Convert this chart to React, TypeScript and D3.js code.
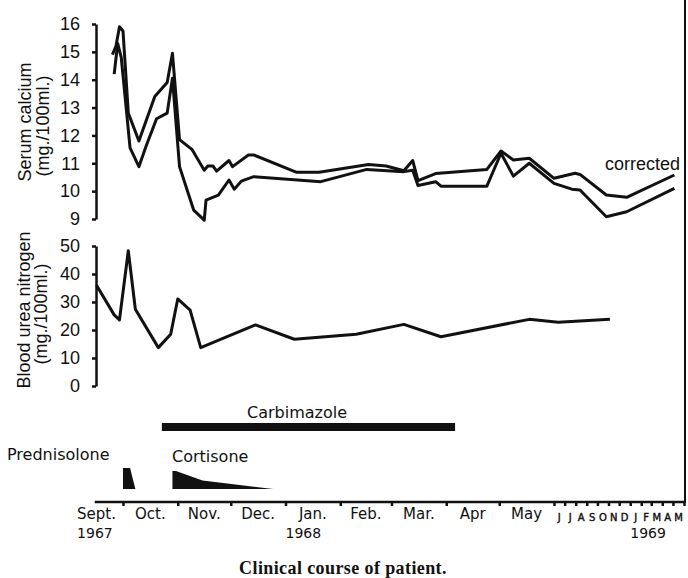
import { useEffect, useRef } from 'react'
import { area, axisBottom, axisLeft, line, scaleLinear, scaleTime, select, timeMonth, timeParse } from 'd3'

const parseDay = timeParse('%Y-%m-%d')

// serum calcium, corrected (upper trace)
const correctedCalcium: [string, number][] = [
  ['1967-09-25', 14.9], ['1967-09-27', 15.2], ['1967-09-29', 15.9], ['1967-10-01', 15.75],
  ['1967-10-04', 12.8], ['1967-10-07', 12.3], ['1967-10-10', 11.8], ['1967-10-19', 13.4],
  ['1967-10-26', 13.9], ['1967-10-29', 14.95], ['1967-11-02', 11.85], ['1967-11-09', 11.5],
  ['1967-11-16', 10.75], ['1967-11-18', 10.9], ['1967-11-21', 10.9], ['1967-11-23', 10.72],
  ['1967-11-30', 11.1], ['1967-12-02', 10.88], ['1967-12-11', 11.3], ['1967-12-14', 11.3],
  ['1968-01-07', 10.68], ['1968-01-20', 10.68], ['1968-02-17', 10.96], ['1968-02-27', 10.9],
  ['1968-03-08', 10.73], ['1968-03-13', 11.1], ['1968-03-16', 10.38], ['1968-03-26', 10.63],
  ['1968-04-24', 10.78], ['1968-05-02', 11.44], ['1968-05-09', 11.12], ['1968-05-18', 11.18],
  ['1968-06-01', 10.46], ['1968-07-30', 10.64], ['1968-08-13', 10.6], ['1968-10-26', 9.86],
  ['1968-12-22', 9.78], ['1969-05-05', 10.58],
]

// serum calcium, measured (lower trace)
const measuredCalcium: [string, number][] = [
  ['1967-09-26', 14.2], ['1967-09-28', 15.3], ['1967-09-30', 14.8], ['1967-10-05', 11.55],
  ['1967-10-10', 10.88], ['1967-10-14', 11.6], ['1967-10-20', 12.6], ['1967-10-26', 12.8],
  ['1967-10-29', 14.05], ['1967-11-02', 10.88], ['1967-11-10', 9.32], ['1967-11-16', 8.96],
  ['1967-11-17', 9.68], ['1967-11-24', 9.86], ['1967-11-30', 10.4], ['1967-12-03', 10.07],
  ['1967-12-07', 10.36], ['1967-12-14', 10.52], ['1968-01-21', 10.34], ['1968-02-16', 10.78],
  ['1968-03-08', 10.7], ['1968-03-13', 10.75], ['1968-03-16', 10.2], ['1968-03-26', 10.34],
  ['1968-03-29', 10.18], ['1968-04-24', 10.18], ['1968-05-02', 11.36], ['1968-05-09', 10.54],
  ['1968-05-18', 11.0], ['1968-06-01', 10.28], ['1968-07-21', 10.07], ['1968-08-13', 10.04],
  ['1968-10-26', 9.08], ['1968-12-22', 9.26], ['1969-05-05', 10.1],
]

const bloodUreaNitrogen: [string, number][] = [
  ['1967-09-16', 36], ['1967-09-26', 25.4], ['1967-09-29', 23.6], ['1967-10-04', 48.3],
  ['1967-10-08', 27.4], ['1967-10-21', 13.7], ['1967-10-28', 18.5], ['1967-11-01', 31.1],
  ['1967-11-08', 27.1], ['1967-11-14', 13.7], ['1967-12-15', 21.8], ['1968-01-06', 16.7],
  ['1968-02-10', 18.5], ['1968-03-08', 22], ['1968-03-29', 17.6], ['1968-05-18', 23.8],
  ['1968-06-13', 22.8], ['1968-11-05', 23.8],
]

const carbimazolePeriod = ['1967-10-23', '1968-04-06']
// relative dose (1 = full)
const prednisoloneDose: [string, number][] = [
  ['1967-10-01', 0], ['1967-10-01', 1], ['1967-10-05', 1], ['1967-10-08', 0],
]
const cortisoneDose: [string, number][] = [
  ['1967-10-29', 0], ['1967-10-29', 0.86], ['1967-10-31', 0.86], ['1967-11-15', 0.4], ['1967-12-25', 0],
]

const calciumTicks = [9, 10, 11, 12, 13, 14, 15, 16]
const ureaTicks = [0, 10, 20, 30, 40, 50]
const monthLabels = ['Sept.', 'Oct.', 'Nov.', 'Dec.', 'Jan.', 'Feb.', 'Mar.', 'Apr', 'May']
const shortMonthLabels = ['J', 'J', 'A', 'S', 'O', 'N', 'D', 'J', 'F', 'M', 'A', 'M']
const yearLabels: [string, string][] = [['1967-09-05', '1967'], ['1968-01-01', '1968'], ['1969-01-01', '1969']]

const dims = {
  width: 688,
  height: 578,
  axisX: 96,
  caTop: 24,
  caBottom: 219,
  bunTop: 246,
  bunBottom: 386,
  xAxisY: 502,
  doseBase: 489,
  doseTop: 468,
  carbY: 423,
  carbH: 8,
  frameX: 685,
}

const sans = 'Liberation Sans, Arial, sans-serif'
const wide = 'DejaVu Sans, Verdana, sans-serif'

const App = () => {
  const ref = useRef<SVGSVGElement | null>(null)

  useEffect(() => {
    const svg = select(ref.current)
    svg.selectAll('*').remove()

    const x = scaleTime()
      .domain([parseDay('1967-10-01')!, parseDay('1968-06-01')!, parseDay('1969-06-01')!])
      .range([123, 554, 684])
    const yCa = scaleLinear().domain([9, 16]).range([dims.caBottom, dims.caTop])
    const yBun = scaleLinear().domain([0, 50]).range([dims.bunBottom, dims.bunTop])
    const yDose = scaleLinear().domain([0, 1]).range([dims.doseBase, dims.doseTop])

    const styleAxis = (g: any) => {
      g.selectAll('path, line').attr('stroke', '#111').attr('stroke-width', 2.5)
      g.attr('font-family', sans).attr('font-size', 18).selectAll('text').attr('fill', '#111')
    }

    svg.append('g')
      .attr('transform', `translate(${dims.axisX},0)`)
      .call(axisLeft(yCa).tickValues(calciumTicks).tickFormat((d: any) => String(d)).tickSize(4).tickSizeOuter(0).tickPadding(12))
      .call(styleAxis)

    svg.append('g')
      .attr('transform', `translate(${dims.axisX},0)`)
      .call(axisLeft(yBun).tickValues(ureaTicks).tickFormat((d: any) => String(d)).tickSize(4).tickSizeOuter(0).tickPadding(12))
      .call(styleAxis)

    // time axis: month boundaries as ticks
    const months = timeMonth.range(parseDay('1967-09-01')!, parseDay('1969-06-02')!)
    const xg = svg.append('g')
      .attr('transform', `translate(0,${dims.xAxisY})`)
      .call(axisBottom(x).tickValues(months.filter(m => x(m) > 100)).tickSize(4).tickSizeOuter(0).tickFormat(() => ''))
      .call(styleAxis)
    xg.select('.domain').remove()
    xg.append('line')
      .attr('x1', x(parseDay('1967-09-15')!)).attr('x2', dims.frameX)
      .attr('stroke', '#111').attr('stroke-width', 2.5)

    // right frame line
    svg.append('line')
      .attr('x1', dims.frameX).attr('x2', dims.frameX).attr('y1', 0).attr('y2', dims.xAxisY + 1)
      .attr('stroke', '#111').attr('stroke-width', 2)

    const mid = (i: number) => (x(months[i]) + x(timeMonth.offset(months[i], 1))) / 2
    svg.append('g').attr('font-family', wide).attr('font-size', 15).attr('text-anchor', 'middle').attr('fill', '#111')
      .selectAll('text').data(monthLabels).enter().append('text')
      .attr('x', (_d, i) => mid(i)).attr('y', 519).text(d => d)
    svg.append('g').attr('font-family', wide).attr('font-size', 10).attr('text-anchor', 'middle').attr('fill', '#111')
      .attr('stroke', '#111').attr('stroke-width', 0.4)
      .selectAll('text').data(shortMonthLabels).enter().append('text')
      .attr('x', (_d, i) => mid(i + monthLabels.length)).attr('y', 521).text(d => d)
    svg.append('g').attr('font-family', wide).attr('font-size', 14).attr('fill', '#111')
      .selectAll('text').data(yearLabels).enter().append('text')
      .attr('x', d => x(parseDay(d[0])!)).attr('y', 538).text(d => d[1])

    // data traces
    const caLine = line<[string, number]>().x(d => x(parseDay(d[0])!)).y(d => yCa(d[1]))
    const bunLine = line<[string, number]>().x(d => x(parseDay(d[0])!)).y(d => yBun(d[1]))
    const traces: [[string, number][], any][] = [
      [correctedCalcium, caLine], [measuredCalcium, caLine], [bloodUreaNitrogen, bunLine],
    ]
    traces.forEach(([data, gen]) => {
      svg.append('path').datum(data).attr('d', gen)
        .attr('fill', 'none').attr('stroke', '#111').attr('stroke-width', 3).attr('stroke-linejoin', 'round')
    })

    // drug doses
    const doseArea = area<[string, number]>()
      .x(d => x(parseDay(d[0])!)).y0(dims.doseBase).y1(d => yDose(d[1]))
    ;[prednisoloneDose, cortisoneDose].forEach(data => {
      svg.append('path').datum(data).attr('d', doseArea).attr('fill', '#111')
    })
    const c0 = x(parseDay(carbimazolePeriod[0])!)
    const c1 = x(parseDay(carbimazolePeriod[1])!)
    svg.append('rect').attr('x', c0).attr('y', dims.carbY).attr('width', c1 - c0).attr('height', dims.carbH).attr('fill', '#111')

    const label = (t: string, lx: number, ly: number, font: string, size: number) =>
      svg.append('text').attr('x', lx).attr('y', ly).attr('font-family', font).attr('font-size', size).attr('fill', '#111').text(t)
    label('Carbimazole', 247, 418, wide, 16)
    label('Prednisolone', 7, 460, wide, 16)
    label('Cortisone', 172, 462, wide, 16)
    label('corrected', 605, 170, sans, 18)

    const vLabel = (t: string, lx: number, ly: number) =>
      svg.append('text').attr('transform', `translate(${lx},${ly}) rotate(-90)`)
        .attr('text-anchor', 'middle').attr('font-family', sans).attr('font-size', 18).attr('fill', '#111').text(t)
    vLabel('Serum calcium', 31, 122)
    vLabel('(mg./100ml.)', 49, 126)
    vLabel('Blood urea nitrogen', 30, 310)
    vLabel('(mg./100ml.)', 47, 314)

    svg.append('text').attr('x', 343).attr('y', 574).attr('text-anchor', 'middle')
      .attr('font-family', 'Liberation Serif, Times New Roman, serif').attr('font-size', 18)
      .attr('font-weight', 'bold').attr('letter-spacing', 0.4).attr('fill', '#111')
      .text('Clinical course of patient.')
  }, [])

  return (
    <svg ref={ref} width={dims.width} height={dims.height}
      style={{ position: 'absolute', left: 0, top: 0, background: '#fff' }} />
  )
}

export default App
